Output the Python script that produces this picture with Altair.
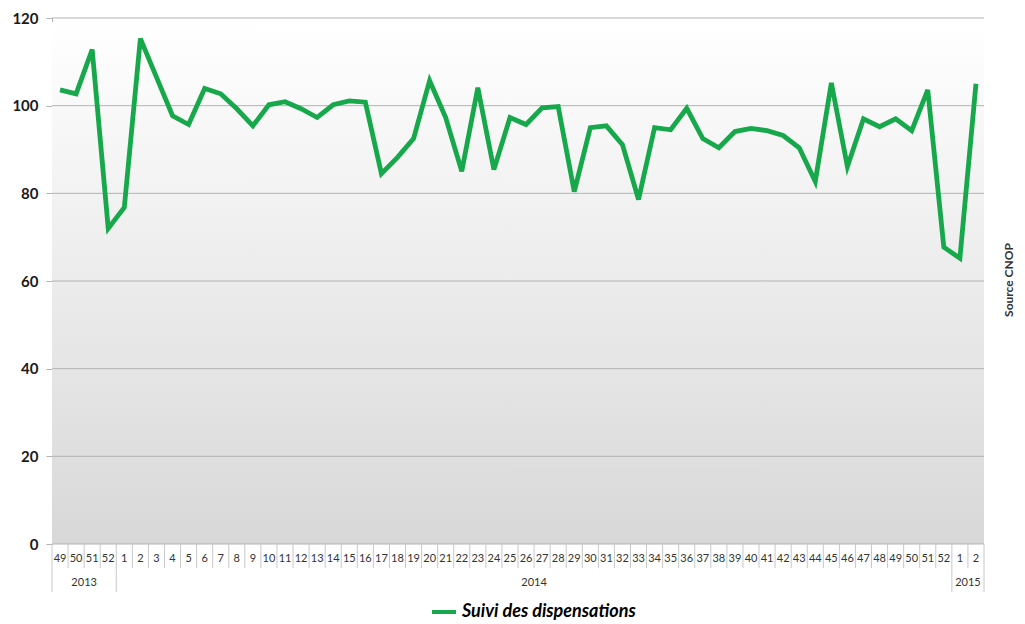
import altair as alt
import pandas as pd

# ---- data ----
week_labels = ["49", "50", "51", "52",
               "1", "2", "3", "4", "5", "6", "7", "8", "9", "10", "11", "12", "13",
               "14", "15", "16", "17", "18", "19", "20", "21", "22", "23", "24", "25",
               "26", "27", "28", "29", "30", "31", "32", "33", "34", "35", "36", "37",
               "38", "39", "40", "41", "42", "43", "44", "45", "46", "47", "48", "49",
               "50", "51", "52",
               "1", "2"]
values = [103.6, 102.7, 112.8, 72.0,
          76.8, 115.3, 106.5, 97.7, 95.7, 103.9, 102.7, 99.3, 95.4, 100.2, 100.9, 99.3, 97.3,
          100.2, 101.1, 100.8, 84.5, 88.2, 92.5, 105.7, 97.3, 85.0, 104.1, 85.4, 97.3,
          95.7, 99.5, 99.8, 80.4, 95.0, 95.4, 91.1, 78.6, 95.0, 94.5, 99.4, 92.5,
          90.4, 94.1, 94.8, 94.3, 93.2, 90.4, 82.7, 105.2, 86.1, 97.0, 95.2, 97.0,
          94.3, 103.6, 67.7,
          65.2, 105.0]
year_names = ["2013", "2014", "2015"]
year_starts = [0, 4, 56]
year_ends = [4, 56, 58]
y_ticks = [0, 20, 40, 60, 80, 100, 120]
series_name = "Suivi des dispensations"

W, H = 932, 526
n = len(values)
FONT = "Lato"

df = pd.DataFrame({
    "pos": [i + 0.5 for i in range(n)],
    "week": week_labels,
    "value": values,
    "series": [series_name] * n,
})
bounds = pd.DataFrame({"b": list(range(n + 1))})
long_set = set(year_starts + [n])
bounds_short = bounds[~bounds["b"].isin(long_set)]
bounds_long = bounds[bounds["b"].isin(long_set)]
years_df = pd.DataFrame({
    "year": year_names,
    "mid": [(s + e) / 2 for s, e in zip(year_starts, year_ends)],
})
grid_df = pd.DataFrame({"v": y_ticks})

xscale = alt.Scale(domain=[0, n], nice=False, zero=False)
yscale = alt.Scale(domain=[0, 120], nice=False)

background = alt.Chart(pd.DataFrame({"a": [0]})).mark_rect(
    color=alt.Gradient(
        gradient="linear",
        stops=[alt.GradientStop(color="#ffffff", offset=0),
               alt.GradientStop(color="#d8d8d8", offset=1)],
        x1=0, y1=0, x2=0, y2=1,
    )
).encode(x=alt.value(0), x2=alt.value(W), y=alt.value(4), y2=alt.value(H))

grid = alt.Chart(grid_df).mark_rule(color="#b3b3b3", strokeWidth=1).encode(
    y=alt.Y("v:Q", scale=yscale,
            axis=alt.Axis(values=y_ticks, title=None, grid=False,
                          labelFont=FONT, labelFontSize=15, labelFontWeight="bold",
                          labelColor="#1a1a1a", labelPadding=8,
                          tickSize=6, tickColor="#b3b3b3", domainColor="#b3b3b3")),
    x=alt.value(0), x2=alt.value(W),
)

line = alt.Chart(df).mark_line(strokeWidth=4.8, strokeJoin="miter").encode(
    x=alt.X("pos:Q", scale=xscale, axis=None),
    y=alt.Y("value:Q", scale=yscale),
    color=alt.Color("series:N", scale=alt.Scale(range=["#17a84b"]),
                    legend=alt.Legend(orient="none", legendX=378, legendY=580,
                                      title=None, labelFont=FONT, labelFontSize=18,
                                      labelFontStyle="italic", labelFontWeight="bold",
                                      labelColor="#000000", symbolType="stroke",
                                      symbolStrokeWidth=4, symbolSize=576,
                                      labelOffset=4, labelLimit=0)),
)

sep_short = alt.Chart(bounds_short).mark_rule(color="#c8c8c8", strokeWidth=1).encode(
    x=alt.X("b:Q", scale=xscale, axis=None),
    y=alt.value(H), y2=alt.value(H + 24),
)
sep_long = alt.Chart(bounds_long).mark_rule(color="#c8c8c8", strokeWidth=1).encode(
    x=alt.X("b:Q", scale=xscale, axis=None),
    y=alt.value(H), y2=alt.value(H + 48),
)

week_text = alt.Chart(df).mark_text(font=FONT, fontSize=11, color="#333333",
                                    baseline="middle", align="center").encode(
    x=alt.X("pos:Q", scale=xscale, axis=None),
    y=alt.value(H + 15),
    text="week:N",
)
year_text = alt.Chart(years_df).mark_text(font=FONT, fontSize=11, color="#333333",
                                          baseline="middle", align="center").encode(
    x=alt.X("mid:Q", scale=xscale, axis=None),
    y=alt.value(H + 39),
    text="year:N",
)
source = alt.Chart(pd.DataFrame({"t": ["Source CNOP"]})).mark_text(
    font=FONT, fontSize=12, fontWeight="bold", color="#333333", angle=270,
    baseline="middle", align="center"
).encode(x=alt.value(W + 25), y=alt.value(262), text="t:N")

chart = alt.layer(
    background, grid, sep_short, sep_long, week_text, year_text, line, source
).properties(
    width=W, height=H,
    autosize=alt.AutoSizeParams(type="none"),
    padding={"left": 44, "top": 10, "right": 33, "bottom": 80},
).configure_view(stroke=None)

chart.save("out.html", embed_options={"renderer": "svg", "actions": False})
